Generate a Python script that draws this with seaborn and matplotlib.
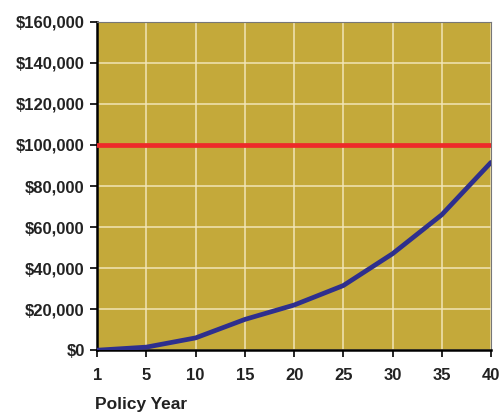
import seaborn as sns
import matplotlib.pyplot as plt
import pandas as pd
from matplotlib.ticker import FuncFormatter

# policy years (evenly spaced categories on the x axis)
years = [1, 5, 10, 15, 20, 25, 30, 35, 40]
# cash value
cash_value = [0, 1500, 6000, 15000, 22000, 31500, 47000, 66000, 91500]
death_benefit = 100000

df = pd.DataFrame({'pos': range(len(years)), 'year': years, 'value': cash_value})

sns.set_style('white')
plt.rcParams['font.family'] = ['Liberation Sans', 'DejaVu Sans']

fig = plt.figure(figsize=(5.01, 4.12), dpi=100)
ax = fig.add_axes([0.194, 0.150, 0.786, 0.797])
ax.set_facecolor('#C4A93A')

ax.axhline(death_benefit, color='#EE2A2A', lw=3.4, zorder=3)
sns.lineplot(data=df, x='pos', y='value', color='#2E2F8E', lw=3.4, ax=ax, zorder=4)

ax.set_xlim(0, len(years) - 1)
ax.set_ylim(0, 160000)
ax.set_xticks(range(len(years)))
ax.set_xticklabels(years)
ax.set_yticks(range(0, 160001, 20000))
ax.yaxis.set_major_formatter(FuncFormatter(lambda v, p: '${:,.0f}'.format(v)))

ax.grid(True, color='#F2E6B8', lw=1.2, alpha=0.9)
ax.set_axisbelow(True)

for lab in ax.get_xticklabels() + ax.get_yticklabels():
    lab.set_fontweight('bold')
    lab.set_fontsize(12)
    lab.set_color('#222222')

ax.tick_params(axis='both', length=5, width=1.2, color='black', direction='out',
               left=True, bottom=True)
ax.tick_params(axis='y', pad=4)
ax.tick_params(axis='x', pad=8)
ax.spines['left'].set_color('black')
ax.spines['left'].set_linewidth(1.8)
ax.spines['bottom'].set_color('black')
ax.spines['bottom'].set_linewidth(1.8)
ax.spines['top'].set_color('#777777')
ax.spines['right'].set_color('#777777')

ax.set_xlabel('')
ax.set_ylabel('')
fig.text(0.19, 0.008, 'Policy Year', fontsize=12.5, fontweight='bold', color='#222222')

fig.savefig('out.png', dpi=100)
